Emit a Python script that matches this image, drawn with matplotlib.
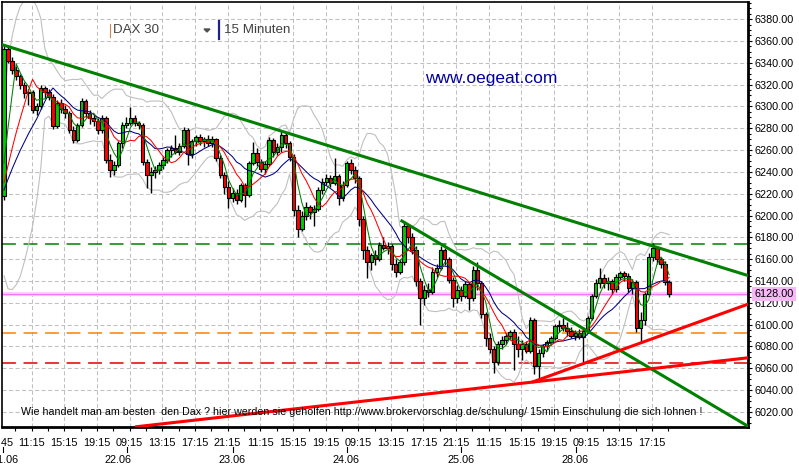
import numpy as np
import pandas as pd
import matplotlib
matplotlib.use("Agg")
import matplotlib.pyplot as plt
from matplotlib.lines import Line2D
from matplotlib.patches import Polygon
from matplotlib.ticker import MultipleLocator
import matplotlib.transforms as mtransforms

plt.rcParams["font.family"] = ["Liberation Sans", "DejaVu Sans"]
plt.rcParams["lines.scale_dashes"] = False

# DAX 30, candles (21.06 - 28.06)
opens = [
    6218, 6353, 6342, 6333, 6328, 6320, 6312, 6313, 6297, 6300, 6317, 6313, 6309, 6282, 6303,
    6298, 6294, 6278, 6269, 6283, 6305, 6294, 6289, 6287, 6278, 6289, 6251, 6242, 6246, 6266,
    6283, 6285, 6289, 6285, 6283, 6249, 6237, 6240, 6242, 6246, 6251, 6260, 6262, 6258, 6264,
    6278, 6256, 6268, 6272, 6268, 6270, 6266, 6270, 6253, 6237, 6226, 6216, 6221, 6214,
    6228, 6219, 6248, 6257, 6249, 6243, 6247, 6269, 6258, 6263, 6274, 6266, 6254, 6205, 6188,
    6200, 6208, 6203, 6206, 6223, 6231, 6234, 6230, 6236, 6216, 6228,
    6248, 6242, 6234, 6197, 6168, 6157, 6164, 6160, 6173, 6170, 6172, 6156, 6148, 6157, 6190,
    6180, 6168, 6140, 6124, 6132, 6130, 6148, 6152, 6168, 6160, 6141, 6124,
    6132, 6126, 6137, 6124, 6150, 6138, 6110, 6088, 6078, 6066, 6082, 6086, 6090, 6093, 6082,
    6078, 6082, 6076, 6104, 6062, 6074, 6080, 6084, 6088, 6099, 6100, 6097, 6094, 6090,
    6092, 6089, 6094, 6106, 6126, 6138, 6143, 6138, 6140, 6133, 6144, 6147, 6145, 6134, 6139,
    6097, 6104, 6128, 6162, 6170, 6160, 6156, 6139,
]
highs = [
    6357, 6356, 6345, 6337, 6330, 6322, 6316, 6315, 6303, 6320, 6319, 6316, 6311, 6306, 6307,
    6301, 6296, 6282, 6285, 6308, 6307, 6297, 6293, 6289, 6292, 6291, 6256, 6250, 6268, 6286,
    6290, 6299, 6292, 6287, 6285, 6252, 6244, 6245, 6249, 6254, 6262, 6265, 6274, 6266, 6281,
    6280, 6270, 6274, 6275, 6272, 6274, 6273, 6271, 6255, 6240, 6232, 6225, 6224, 6230,
    6230, 6250, 6267, 6262, 6252, 6250, 6272, 6271, 6266, 6277, 6276, 6268, 6256, 6210, 6204,
    6212, 6210, 6210, 6226, 6234, 6238, 6237, 6253, 6238, 6232, 6250,
    6252, 6245, 6236, 6200, 6172, 6166, 6168, 6176, 6180, 6176, 6174, 6160, 6160, 6195, 6192,
    6184, 6172, 6143, 6136, 6138, 6153, 6156, 6172, 6170, 6162, 6144, 6136,
    6135, 6140, 6139, 6154, 6157, 6140, 6112, 6092, 6080, 6085, 6090, 6092, 6095, 6096, 6090,
    6086, 6085, 6107, 6106, 6078, 6082, 6086, 6090, 6101, 6104, 6106, 6102, 6098, 6095,
    6096, 6098, 6108, 6128, 6142, 6152, 6146, 6144, 6142, 6146, 6149, 6149, 6147, 6142, 6141,
    6112, 6130, 6166, 6175, 6172, 6162, 6158, 6141,
]
lows = [
    6214, 6340, 6330, 6324, 6316, 6308, 6301, 6294, 6292, 6298, 6308, 6306, 6279, 6280, 6294,
    6289, 6276, 6266, 6267, 6281, 6290, 6284, 6282, 6275, 6276, 6248, 6235, 6237, 6244, 6262,
    6280, 6283, 6282, 6279, 6246, 6225, 6221, 6234, 6238, 6243, 6248, 6254, 6256, 6255, 6262,
    6246, 6253, 6264, 6265, 6263, 6264, 6263, 6250, 6234, 6220, 6207, 6212, 6211, 6212,
    6208, 6217, 6246, 6245, 6240, 6238, 6245, 6254, 6255, 6258, 6262, 6250, 6200, 6180, 6186,
    6196, 6197, 6190, 6204, 6220, 6228, 6226, 6228, 6210, 6213, 6226,
    6238, 6230, 6190, 6160, 6143, 6150, 6155, 6158, 6168, 6165, 6150, 6144, 6146, 6155, 6175,
    6165, 6135, 6100, 6118, 6125, 6128, 6144, 6150, 6155, 6138, 6116, 6120,
    6122, 6124, 6113, 6122, 6132, 6106, 6080, 6074, 6056, 6063, 6078, 6082, 6086, 6058, 6070,
    6068, 6074, 6074, 6055, 6049, 6070, 6076, 6081, 6086, 6093, 6094, 6090, 6088, 6086,
    6087, 6066, 6092, 6104, 6124, 6134, 6134, 6132, 6128, 6130, 6141, 6140, 6130, 6128, 6093,
    6084, 6100, 6126, 6158, 6156, 6152, 6136, 6125,
]
closes = [
    6353, 6342, 6333, 6328, 6320, 6312, 6313, 6297, 6300, 6317, 6313, 6309, 6282, 6303, 6298,
    6294, 6278, 6269, 6283, 6305, 6294, 6289, 6287, 6278, 6289, 6251, 6242, 6246, 6266, 6283,
    6285, 6289, 6285, 6283, 6249, 6237, 6240, 6242, 6246, 6251, 6260, 6262, 6258, 6264, 6278,
    6256, 6268, 6272, 6268, 6270, 6266, 6270, 6253, 6237, 6226, 6216, 6221, 6214, 6228,
    6219, 6248, 6257, 6249, 6243, 6247, 6269, 6258, 6263, 6274, 6266, 6254, 6205, 6188, 6200,
    6208, 6203, 6206, 6223, 6231, 6234, 6230, 6236, 6216, 6228, 6248,
    6242, 6234, 6197, 6168, 6157, 6164, 6160, 6173, 6170, 6172, 6156, 6148, 6157, 6190, 6180,
    6168, 6140, 6124, 6132, 6130, 6148, 6152, 6168, 6160, 6141, 6124, 6132,
    6126, 6137, 6124, 6150, 6138, 6110, 6088, 6078, 6066, 6082, 6086, 6090, 6093, 6082, 6078,
    6082, 6076, 6104, 6062, 6074, 6080, 6084, 6088, 6099, 6100, 6097, 6094, 6090, 6092,
    6089, 6094, 6106, 6126, 6138, 6143, 6138, 6140, 6133, 6144, 6147, 6145, 6134, 6139, 6097,
    6104, 6128, 6162, 6170, 6160, 6156, 6139, 6128,
]
# closes before the visible window, only used to seed the indicators
prior_closes = [6212, 6208, 6214, 6210, 6215, 6211, 6213, 6216, 6209, 6212, 6214, 6210, 6213, 6215]

time_labels = ["11:15", "15:15", "19:15", "09:15", "13:15", "17:15", "21:15", "11:15", "15:15", "19:15",
               "09:15", "13:15", "17:15", "21:15", "11:15", "15:15", "19:15", "09:15", "13:15", "17:15"]
date_labels = ["21.06", "22.06", "23.06", "24.06", "25.06", "28.06"]
date_label_pos = [0.3, 27.9, 55.9, 83.8, 112.0, 140.0]
date_tick_pos = [-0.2, 30.1, 56.0, 84.0, 112.0, 140.1]

# trend lines: two anchor points (bar, price) each
res_long = [(0, 6356.0), (68, 6277.3)]
res_short = [(97.5, 6195.0), (185, 6001.0)]
sup_long = [(32.5, 6006.5), (131, 6048.0)]
sup_short = [(129.7, 6047.7), (185, 6122.4)]
level_green = 6174
level_orange = 6092
level_red = 6065
last_price = 6128

x = np.arange(len(closes))
o = np.array(opens, float)
h = np.array(highs, float)
l = np.array(lows, float)
c = np.array(closes, float)

full = pd.Series(prior_closes + closes, dtype=float)
n0 = len(prior_closes)
ma_fast = full.rolling(4).mean().iloc[n0:].values
ma_mid = full.rolling(8).mean().iloc[n0:].values
ma_slow = full.rolling(13).mean().iloc[n0:].values
bb_mean = full.rolling(11).mean()
bb_std = full.rolling(11).std(ddof=0)
bb_up = (bb_mean + 2 * bb_std).iloc[n0:].values
bb_lo = (bb_mean - 2 * bb_std).iloc[n0:].values

W, H = 799, 471
fig = plt.figure(figsize=(W / 100, H / 100), dpi=100)
fig.patch.set_facecolor("white")
ax = fig.add_axes([1.7 / W, 1 - 426.7 / H, 746.6 / W, 425.0 / H])
ax.set_xlim(-0.56, 182.4)
ax.set_ylim(6006.5, 6395.9)

# grid
grid_pos = [6.8 + 8 * k for k in range(len(time_labels))]
ax.set_xticks(grid_pos)
ax.set_xticklabels(time_labels)
ax.set_xticks([2.8 + 4 * k for k in range(41)], minor=True)
ax.set_yticks(np.arange(6020, 6381, 20))
ax.set_yticklabels([f"{v:.2f}" for v in np.arange(6020, 6381, 20)])
ax.yaxis.set_minor_locator(MultipleLocator(5))
ax.yaxis.tick_right()
ax.grid(True, which="major", color="#c0c0c0", linewidth=0.75, linestyle=(0, (2.9, 1.8)))
ax.set_axisbelow(True)
ax.tick_params(axis="x", which="both", length=3, width=0.8, pad=5, labelsize=7.8)
ax.tick_params(axis="y", which="major", length=3, width=0.8, pad=1.5, labelsize=7.8)
ax.tick_params(axis="y", which="minor", length=2, width=0.8)
for side in ["right", "bottom"]:
    ax.spines[side].set_linewidth(2)
for side in ["left", "top"]:
    ax.spines[side].set_linewidth(1.2)

# horizontal levels
ax.axhline(last_price, color="#ffd0ff", linewidth=3, zorder=1.6)
ax.axhline(last_price, color="#f078f0", linewidth=0.9, zorder=1.7)
ax.axhline(level_green, color="#008000", linewidth=1.1, linestyle=(0, (10, 5.5)), zorder=1.8)
ax.axhline(level_orange, color="#ff8000", linewidth=1.1, linestyle=(0, (10, 5.5)), zorder=1.8)
ax.axhline(level_red, color="#e00000", linewidth=1.1, linestyle=(0, (10, 5.5)), zorder=1.8)

# bollinger bands
ax.plot(x, bb_up, color="#c0c0c0", linewidth=0.8, zorder=2)
ax.plot(x, bb_lo, color="#c0c0c0", linewidth=0.8, zorder=2)

# candles
up = c >= o
body_lo = np.minimum(o, c)
body_h = np.maximum(np.abs(c - o), 0.8)
ax.vlines(x, l, h, color="black", linewidth=1.0, zorder=3)
ax.bar(x, body_h, bottom=body_lo, width=0.85,
       color=np.where(up, "#00cc00", "#ff0000"), edgecolor="black", linewidth=0.8, zorder=3.1)

# moving averages
ax.plot(x, ma_slow, color="#000080", linewidth=0.75, zorder=4)
ax.plot(x, ma_mid, color="#ff0000", linewidth=0.75, zorder=4)
ax.plot(x, ma_fast, color="#008000", linewidth=0.75, zorder=4)

# trend lines
ax.axline(res_long[0], res_long[1], color="#008000", linewidth=2.2, zorder=5)
ax.plot(*zip(*res_short), color="#008000", linewidth=2.2, zorder=5)
ax.axline(sup_long[0], sup_long[1], color="#ff0000", linewidth=2.2, zorder=5)
ax.plot(*zip(*sup_short), color="#ff0000", linewidth=2.2, zorder=5)

# last price marker on the axis
ytrans = mtransforms.blended_transform_factory(ax.transAxes, ax.transData)
ax.text(1.0085, last_price, f"{last_price:.2f}", transform=ytrans, ha="left", va="center",
        fontsize=7.8, clip_on=False, zorder=10,
        bbox=dict(boxstyle="square,pad=0.2", facecolor="#f8b8f8", edgecolor="none"))

# first (clipped) time label and date row
xtrans = ax.get_xaxis_transform()
ax.text(-0.98, -0.038, "07:45", transform=xtrans, ha="center", va="center", fontsize=7.8, clip_on=False)
for pos in date_tick_pos:
    ax.plot([pos, pos], [-0.0485, -0.06], transform=xtrans, color="black", linewidth=0.8, clip_on=False)
for lab, pos in zip(date_labels, date_label_pos):
    ax.text(pos, -0.079, lab, transform=xtrans, ha="center", va="center", fontsize=7.8, clip_on=False)


def fx(px):
    return px / W


def fy(py):
    return 1 - py / H


fig.text(fx(491), fy(78), "www.oegeat.com", ha="center", va="center", fontsize=12.5, color="#0000a0")
fig.text(fx(113), fy(30), "DAX 30", ha="left", va="center", fontsize=9.6, color="#404040")
fig.text(fx(224), fy(30), "15 Minuten", ha="left", va="center", fontsize=9.6, color="#404040")
fig.add_artist(Line2D([fx(109.5)] * 2, [fy(24), fy(37)], color="#d08850", linewidth=0.8))
fig.add_artist(Line2D([fx(218.5)] * 2, [fy(21), fy(39)], color="#20208a", linewidth=1.6))
fig.add_artist(Polygon([[fx(204), fy(29)], [fx(210), fy(29)], [fx(207), fy(32)]],
                       closed=True, color="#505050", transform=fig.transFigure))
fig.text(fx(21), fy(412),
         "Wie handelt man am besten  den Dax ? hier werden sie geholfen "
         "http://www.brokervorschlag.de/schulung/ 15min Einschulung die sich lohnen !",
         ha="left", va="center", fontsize=7.7, color="black")

fig.savefig("out.png", dpi=100)
